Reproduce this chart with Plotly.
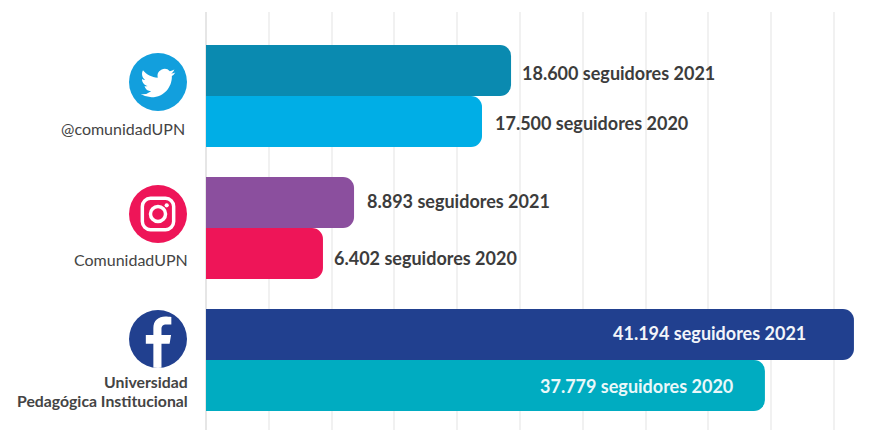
import base64
import plotly.graph_objects as go

accounts = ["@comunidadUPN", "ComunidadUPN", "Universidad<br>Pedagógica Institucional"]
years = ["2021", "2020"]
# Printed follower counts
labels_2021 = ["18.600 seguidores 2021", "8.893 seguidores 2021", "41.194 seguidores 2021"]
labels_2020 = ["17.500 seguidores 2020", "6.402 seguidores 2020", "37.779 seguidores 2020"]
# Bar lengths as drawn in the picture, read against the gridlines
drawn_2021 = [19430, 9430, 41270]
drawn_2020 = [17580, 7450, 35600]
colors_2021 = ["#0A8AB0", "#8B4F9E", "#21408F"]
colors_2020 = ["#00AEE6", "#EE1558", "#00ACC1"]

FONT = "Lato, 'Open Sans', sans-serif"
TEXT = "#3c3c3c"
W, H = 887, 431
L, R, T, B = 206, 0, 12, 1
PW, PH = W - L - R, H - T - B

fig = go.Figure()
for name, vals, cols in [(years[0], drawn_2021, colors_2021), (years[1], drawn_2020, colors_2020)]:
    fig.add_trace(go.Bar(y=accounts, x=vals, name=name, orientation="h",
                         marker=dict(color=cols, line=dict(width=0)), hoverinfo="x+y"))

def value_note(x, y, text, color, anchor, xshift):
    fig.add_annotation(x=x, y=y, xref="x", yref="y", text=f"<b>{text}</b>", showarrow=False,
                       xanchor=anchor, xshift=xshift, font=dict(family=FONT, size=18, color=color))

# (group index + offset gives the vertical place of each label)
value_note(drawn_2021[0], 0 - 0.175, labels_2021[0], TEXT, "left", 9)
value_note(drawn_2020[0], 0 + 0.205, labels_2020[0], TEXT, "left", 11)
value_note(drawn_2021[1], 1 - 0.205, labels_2021[1], TEXT, "left", 11)
value_note(drawn_2020[1], 1 + 0.225, labels_2020[1], TEXT, "left", 9)
value_note(drawn_2021[2], 2 - 0.205, labels_2021[2], "#F2F5FA", "right", -46)
value_note(drawn_2020[2], 2 + 0.197, labels_2020[2], "#EAF8FA", "right", -30)

def px(x):
    return (x - L) / PW

def py(y):
    return (H - B - y) / PH

def name_note(y, text, right=188, bold=False, size=16):
    t = f"<b>{text}</b>" if bold else text
    fig.add_annotation(x=px(right), y=py(y), xref="paper", yref="paper", text=t,
                       showarrow=False, xanchor="right", yanchor="middle", align="right",
                       font=dict(family=FONT, size=size, color="#444444"))

def svg_uri(body):
    svg = f'<svg xmlns="http://www.w3.org/2000/svg" viewBox="0 0 100 100">{body}</svg>'
    return "data:image/svg+xml;base64," + base64.b64encode(svg.encode()).decode()

twitter = svg_uri('<circle cx="50" cy="50" r="50" fill="#129FDD"/>'
    '<g transform="translate(20 22) scale(2.5)"><path fill="#fff" d="M23.95 4.57a10 10 0 0 1-2.82.77 '
    '4.96 4.96 0 0 0 2.16-2.72c-.95.55-2 .95-3.12 1.18a4.92 4.92 0 0 0-8.38 4.48C7.69 8.1 4.07 6.13 1.64 3.16'
    'a4.82 4.82 0 0 0-.67 2.48c0 1.71.87 3.21 2.19 4.1a4.9 4.9 0 0 1-2.23-.61v.06c0 2.38 1.7 4.37 3.95 4.83'
    'a5 5 0 0 1-2.21.08 4.94 4.94 0 0 0 4.6 3.42A9.87 9.87 0 0 1 0 19.54a14 14 0 0 0 7.56 2.21'
    'c9.05 0 14-7.5 14-13.98 0-.21 0-.42-.02-.63a9.94 9.94 0 0 0 2.41-2.57z"/></g>')
instagram = svg_uri('<circle cx="50" cy="50" r="50" fill="#EE1558"/>'
    '<rect x="23" y="23" width="54" height="54" rx="14" fill="none" stroke="#fff" stroke-width="6"/>'
    '<circle cx="50" cy="50" r="13" fill="none" stroke="#fff" stroke-width="6"/>'
    '<circle cx="65" cy="35" r="3.6" fill="#fff"/>')
facebook = svg_uri('<defs><clipPath id="c"><circle cx="50" cy="50" r="50"/></clipPath></defs>'
    '<circle cx="50" cy="50" r="50" fill="#21408F"/>'
    '<path clip-path="url(#c)" fill="#fff" d="M56 100V58h14l2.5-15H56V33c0-5 2-8 8.500-8H73V12'
    'c-3-.5-7-1-10.500-1C51 11 42 18 42 31v12H29v15h13v42z"/>')

for src, cy in [(twitter, 82), (instagram, 214), (facebook, 339)]:
    fig.add_layout_image(source=src, xref="paper", yref="paper", x=px(158), y=py(cy),
                         sizex=58 / PW, sizey=58 / PH, xanchor="center", yanchor="middle",
                         sizing="contain", layer="above")

name_note(128, accounts[0], right=187)
name_note(259, accounts[1], right=190)
name_note(381.5, "Universidad", right=190, bold=True, size=15.8)
name_note(400.5, "Pedagógica Institucional", right=190, bold=True, size=15.8)

fig.update_layout(
    width=W, height=H, autosize=False, showlegend=False,
    paper_bgcolor="white", plot_bgcolor="white",
    barmode="group", bargap=0.227, bargroupgap=0, barcornerradius=11,
    margin=dict(l=L, r=R, t=T, b=B, pad=0),
    xaxis=dict(range=[0, 43376], dtick=4000, tick0=0, showticklabels=False, ticks="",
               showgrid=True, gridcolor="#F1F1F1", gridwidth=2,
               zeroline=True, zerolinecolor="#E6E6E6", zerolinewidth=2, fixedrange=True),
    yaxis=dict(range=[2.53, -0.636], showticklabels=False, ticks="", showgrid=False,
               zeroline=False, fixedrange=True),
    font=dict(family=FONT),
)
fig.write_html("out.html", config={"displayModeBar": False},
               post_script="document.body.style.margin='0';")
